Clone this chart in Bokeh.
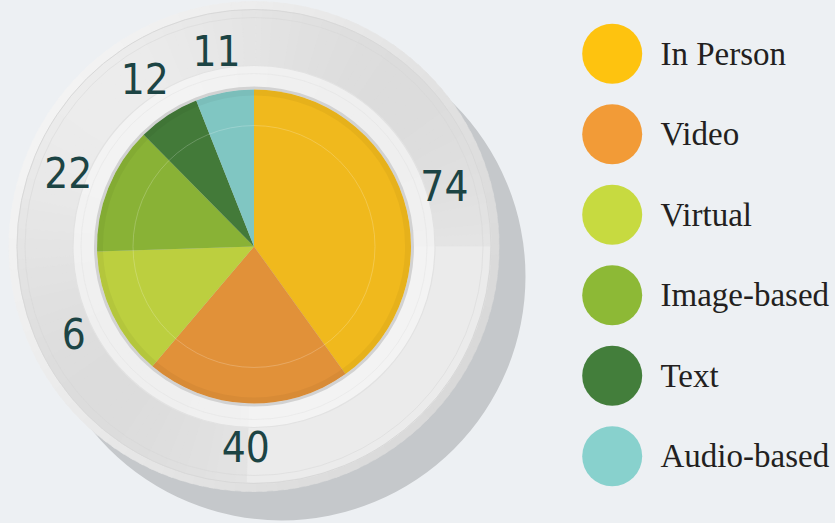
import math
from bokeh.plotting import figure
from bokeh.models import Range1d, ColumnDataSource
from bokeh.core.properties import value
from bokeh.embed import file_html
from bokeh.resources import INLINE

# ---------------- data ----------------
categories = ["In Person", "Video", "Virtual", "Image-based", "Text", "Audio-based"]
slice_shares = [40.1, 21.1, 13.3, 13.1, 6.4, 6.0]          # share of the pie (%)
value_labels = ["74", "40", "6", "22", "12", "11"]          # numbers printed on the ring

# ---------------- styles ----------------
slice_colors = ["#f0b91d", "#e19139", "#bccf3f", "#89b236", "#437a39", "#80c6c2"]
legend_colors = ["#fec30f", "#f29b37", "#c7da40", "#8db936", "#437e3b", "#88d1cd"]
BG = "#edf0f3"

W, H = 835, 523
p = figure(width=W, height=H, output_backend="svg", toolbar_location=None,
           x_range=Range1d(0, W), y_range=Range1d(0, H),
           x_axis_type=None, y_axis_type=None, min_border=0)
p.background_fill_color = BG
p.border_fill_color = BG
p.outline_line_color = None
p.grid.visible = False

cx, cy = 253.5, H - 246.0
R_PIE, R_BEVEL, R_RING, R_OUT = 157, 181, 237, 245


def gray(v):
    v = int(max(0, min(255, round(v))))
    return "#%02x%02x%02x" % (v, v, v)


# drop shadow
p.circle(x=cx + 27.5, y=cy - 30, radius=R_OUT - 1, fill_color="#c5c8cb", line_color=None)

# ring with soft lighting (angles measured clockwise from the top)
N = 144
step = 360.0 / N
seg_a0, seg_a1, ring_c, rim_c = [], [], [], []
for i in range(N):
    th = (i + 0.5) * step
    seg_a0.append(math.radians(90 - i * step + 0.5))
    seg_a1.append(math.radians(90 - (i + 1) * step - 0.5))
    ring_c.append(gray(0xe4 + 8 * math.cos(math.radians(2 * (th - 315)))))
    rim_c.append(gray(0xe6 + 13 * math.cos(math.radians(th - 300))))
p.annular_wedge(x=cx, y=cy, inner_radius=R_RING, outer_radius=R_OUT,
                start_angle=seg_a0, end_angle=seg_a1, direction="clock",
                fill_color=rim_c, line_color=rim_c, line_width=0.5)
p.annular_wedge(x=cx, y=cy, inner_radius=R_PIE, outer_radius=R_RING,
                start_angle=seg_a0, end_angle=seg_a1, direction="clock",
                fill_color=ring_c, line_color=ring_c, line_width=0.5)
# lighter lower-right plate
p.annular_wedge(x=cx, y=cy, inner_radius=R_PIE, outer_radius=R_RING - 1,
                start_angle=0, end_angle=-math.pi / 2 - 0.03, direction="clock",
                fill_color="#ebebeb", line_color=None)

# faint engraved lines on the ring
p.circle(x=cx, y=cy, radius=229, fill_color=None, line_color="#d4d4d4", line_width=0.8, line_alpha=0.6)
p.circle(x=cx, y=cy, radius=R_RING, fill_color=None, line_color="#d8d8d8", line_width=1)

# inner bevel
p.annular_wedge(x=cx, y=cy, inner_radius=R_PIE, outer_radius=R_BEVEL,
                start_angle=0, end_angle=2 * math.pi,
                fill_color="#f7f7f7", fill_alpha=0.7, line_color=None)
p.circle(x=cx, y=cy, radius=R_BEVEL, fill_color=None, line_color="#e2e2e2", line_width=1.2)
p.circle(x=cx, y=cy, radius=R_BEVEL - 8, fill_color=None, line_color="#dddddd", line_width=0.7, line_alpha=0.5)
p.circle(x=cx, y=cy, radius=R_PIE + 1.5, fill_color=None, line_color="#d2d2d2", line_width=3)

# pie
total = sum(slice_shares)
starts, ends, mids = [], [], []
acc = 0.0
for s in slice_shares:
    t0 = acc / total * 2 * math.pi
    acc += s
    t1 = acc / total * 2 * math.pi
    starts.append(math.pi / 2 - t0)
    ends.append(math.pi / 2 - t1)
    mids.append((t0 + t1) / 2)

src = ColumnDataSource(dict(cat=categories, start=starts, end=ends, color=slice_colors))
p.wedge(x=cx, y=cy, radius=R_PIE, start_angle="start", end_angle="end", direction="clock",
        fill_color="color", line_color=None, source=src)
# subtle rim shading and inner guide circle
p.annular_wedge(x=cx, y=cy, inner_radius=R_PIE - 6, outer_radius=R_PIE,
                start_angle=0, end_angle=2 * math.pi,
                fill_color="#000000", fill_alpha=0.04, line_color=None)
p.circle(x=cx, y=cy, radius=121, fill_color=None, line_color="#ffffff", line_width=0.7, line_alpha=0.3)

# numbers on the ring
R_LAB = 200
lx = [cx + R_LAB * math.sin(m) for m in mids]
ly = [cy + R_LAB * math.cos(m) for m in mids]
p.text(x=lx, y=ly, text=value_labels, text_align="center", text_baseline="middle",
       text_font=value("'DejaVu Sans Condensed', 'Liberation Sans Narrow', 'Roboto'"),
       text_font_size="42px", text_color="#1c4444")

# legend
LX, LY0, LSTEP = 611.7, H - 53.3, 80.5
ys = [LY0 - i * LSTEP for i in range(len(categories))]
p.circle(x=[LX] * len(categories), y=ys, radius=30, fill_color=legend_colors, line_color=None)
p.text(x=[LX + 48.3] * len(categories), y=ys, text=categories, text_align="left",
       text_baseline="middle", text_font=value("Liberation Serif"),
       text_font_size="33px", text_color="#231f20")

html = file_html(p, INLINE)
html = html.replace("</head>",
                    "<style>html,body{margin:0;padding:0;overflow:hidden;background:%s;}</style></head>" % BG, 1)
open("out.html", "w").write(html)
